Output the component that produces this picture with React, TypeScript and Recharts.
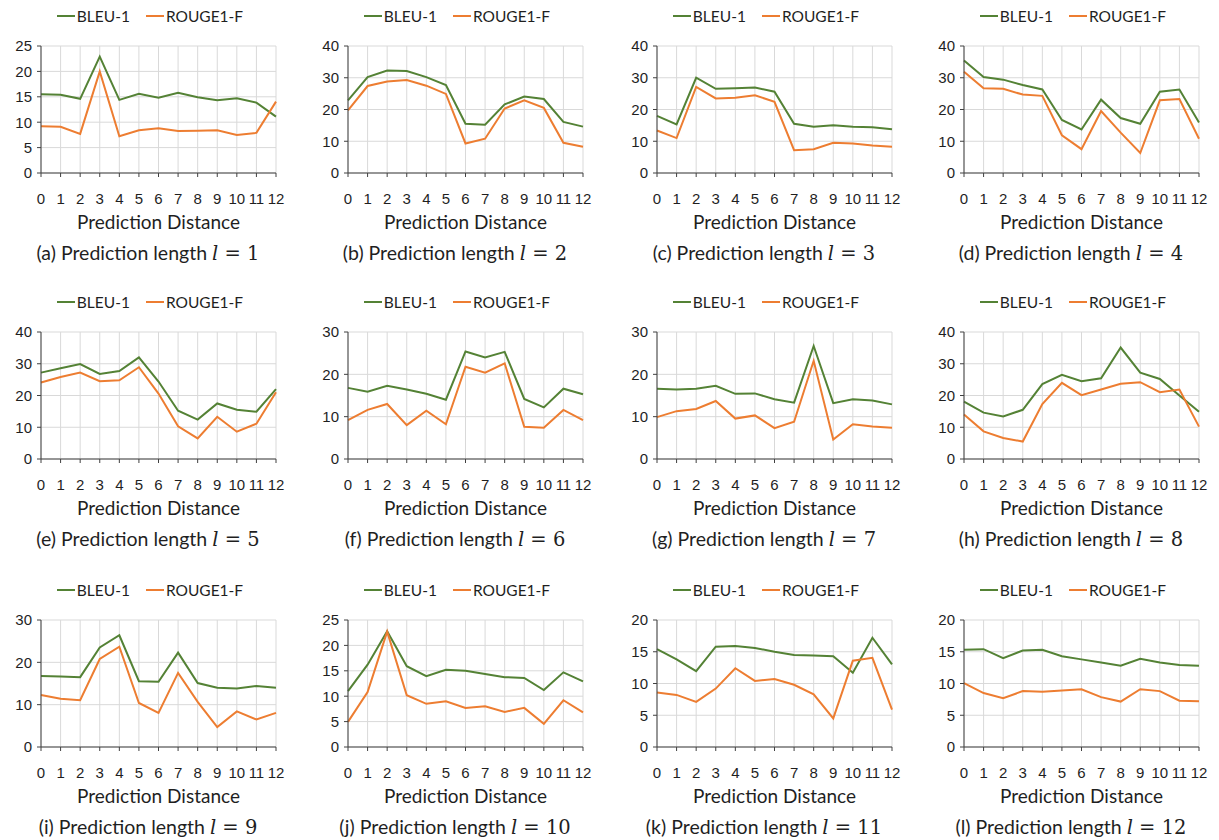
// grid of twelve small line charts: BLEU-1 / ROUGE1-F against prediction distance
import { CartesianGrid, Legend, Line, LineChart, XAxis, YAxis } from "recharts";

const distances = ["0", "1", "2", "3", "4", "5", "6", "7", "8", "9", "10", "11", "12"];

const bleuL1 = [15.5, 15.4, 14.6, 22.9, 14.4, 15.6, 14.8, 15.8, 14.9, 14.3, 14.7, 13.85, 11.1];
const rougeL1 = [9.2, 9.1, 7.7, 20.0, 7.25, 8.4, 8.8, 8.25, 8.3, 8.4, 7.5, 7.9, 14.05];
const bleuL2 = [22.9, 30.2, 32.3, 32.1, 30.2, 27.7, 15.5, 15.2, 21.6, 24.1, 23.3, 16.1, 14.6];
const rougeL2 = [19.7, 27.4, 28.8, 29.3, 27.5, 24.9, 9.3, 10.8, 20.3, 22.9, 20.5, 9.5, 8.3];
const bleuL3 = [18.0, 15.3, 30.0, 26.5, 26.7, 26.9, 25.6, 15.5, 14.6, 15.0, 14.6, 14.4, 13.8];
const rougeL3 = [13.4, 11.0, 27.1, 23.5, 23.7, 24.5, 22.4, 7.2, 7.5, 9.5, 9.3, 8.65, 8.3];
const bleuL4 = [35.4, 30.2, 29.4, 27.7, 26.3, 16.7, 13.7, 23.1, 17.3, 15.5, 25.6, 26.3, 15.9];
const rougeL4 = [31.9, 26.7, 26.5, 24.7, 24.3, 11.9, 7.5, 19.5, 12.7, 6.3, 22.9, 23.3, 10.8];
const bleuL5 = [27.2, 28.6, 29.9, 26.8, 27.7, 32.0, 24.4, 15.2, 12.4, 17.5, 15.5, 14.9, 22.0];
const rougeL5 = [24.1, 25.8, 27.2, 24.5, 24.8, 28.9, 20.6, 10.3, 6.5, 13.3, 8.6, 11.1, 21.0];
const bleuL6 = [16.8, 15.9, 17.3, 16.4, 15.4, 14.0, 25.4, 24.0, 25.3, 14.2, 12.2, 16.6, 15.3];
const rougeL6 = [9.2, 11.6, 13.0, 8.0, 11.4, 8.2, 21.8, 20.4, 22.6, 7.6, 7.4, 11.6, 9.2];
const bleuL7 = [16.6, 16.4, 16.6, 17.3, 15.4, 15.5, 14.1, 13.3, 26.7, 13.2, 14.1, 13.8, 12.9];
const rougeL7 = [9.9, 11.3, 11.8, 13.7, 9.55, 10.3, 7.3, 8.8, 23.2, 4.6, 8.2, 7.7, 7.4];
const bleuL8 = [18.1, 14.6, 13.4, 15.5, 23.6, 26.5, 24.5, 25.4, 35.1, 27.2, 25.2, 20.0, 14.9];
const rougeL8 = [14.0, 8.7, 6.6, 5.5, 17.3, 24.0, 20.1, 21.9, 23.7, 24.2, 21.05, 21.9, 10.2];
const bleuL9 = [16.8, 16.65, 16.5, 23.5, 26.4, 15.55, 15.4, 22.3, 15.1, 14.0, 13.8, 14.4, 14.0];
const rougeL9 = [12.3, 11.4, 11.05, 20.8, 23.7, 10.4, 8.05, 17.5, 10.65, 4.7, 8.4, 6.5, 8.05];
const bleuL10 = [11.0, 16.2, 22.8, 15.9, 13.95, 15.2, 15.0, 14.35, 13.75, 13.6, 11.2, 14.7, 12.9];
const rougeL10 = [4.95, 10.8, 22.7, 10.2, 8.5, 9.0, 7.7, 8.0, 6.9, 7.7, 4.55, 9.2, 6.8];
const bleuL11 = [15.4, 13.8, 11.95, 15.8, 15.9, 15.6, 15.0, 14.5, 14.4, 14.3, 11.7, 17.2, 13.0];
const rougeL11 = [8.6, 8.2, 7.1, 9.2, 12.4, 10.4, 10.7, 9.8, 8.3, 4.5, 13.6, 14.05, 5.9];
const bleuL12 = [15.3, 15.4, 14.0, 15.2, 15.3, 14.3, 13.8, 13.3, 12.8, 13.9, 13.3, 12.9, 12.8];
const rougeL12 = [10.05, 8.5, 7.7, 8.8, 8.7, 8.9, 9.1, 7.85, 7.15, 9.1, 8.8, 7.3, 7.2];

const ticks20 = [0, 5, 10, 15, 20];
const ticks25 = [0, 5, 10, 15, 20, 25];
const ticks30 = [0, 10, 20, 30];
const ticks40 = [0, 10, 20, 30, 40];

const panels = [
  { tag: "a", l: "1", bleu: bleuL1, rouge: rougeL1, ticks: ticks25 },
  { tag: "b", l: "2", bleu: bleuL2, rouge: rougeL2, ticks: ticks40 },
  { tag: "c", l: "3", bleu: bleuL3, rouge: rougeL3, ticks: ticks40 },
  { tag: "d", l: "4", bleu: bleuL4, rouge: rougeL4, ticks: ticks40 },
  { tag: "e", l: "5", bleu: bleuL5, rouge: rougeL5, ticks: ticks40 },
  { tag: "f", l: "6", bleu: bleuL6, rouge: rougeL6, ticks: ticks30 },
  { tag: "g", l: "7", bleu: bleuL7, rouge: rougeL7, ticks: ticks30 },
  { tag: "h", l: "8", bleu: bleuL8, rouge: rougeL8, ticks: ticks40 },
  { tag: "i", l: "9", bleu: bleuL9, rouge: rougeL9, ticks: ticks30 },
  { tag: "j", l: "10", bleu: bleuL10, rouge: rougeL10, ticks: ticks25 },
  { tag: "k", l: "11", bleu: bleuL11, rouge: rougeL11, ticks: ticks20 },
  { tag: "l", l: "12", bleu: bleuL12, rouge: rougeL12, ticks: ticks20 },
];

const GREEN = "#548235";
const ORANGE = "#ED7D31";
const AXIS = "#404040";
const TEXT = "#1f1f1f";
const SANS = "Lato, 'Open Sans', sans-serif";
const ARIAL = "'Liberation Sans', Arial, sans-serif";

// plot-area corners
const plotLefts = [41, 348, 657, 964];
const plotTops = [46, 332, 620];
const PW = 235;
const PH = 127;
const YW = 40;
const TOP = 46;
const XH = 60;
const RIGHT = 10;

function LegendRow({ payload }: any) {
  return (
    <div style={{ display: "flex", justifyContent: "center", alignItems: "center", fontFamily: SANS, fontSize: 15.5, color: TEXT }}>
      {(payload || []).map((e: any, i: number) => (
        <div key={e.value} style={{ display: "flex", alignItems: "center", marginLeft: i ? 16 : 0 }}>
          <div style={{ width: 18, height: 2, background: e.color, marginRight: 2 }} />
          <span>{e.value}</span>
        </div>
      ))}
    </div>
  );
}

function Panel({ p, idx }: { p: (typeof panels)[number]; idx: number }) {
  const col = idx % 4;
  const row = Math.floor(idx / 4);
  const plotLeft = plotLefts[col];
  const plotTop = plotTops[row];
  const data = distances.map((d, i) => ({ d, bleu: p.bleu[i], rouge: p.rouge[i] }));
  const yMax = p.ticks[p.ticks.length - 1];
  const chartW = YW + PW + RIGHT;

  return (
    <>
      <div style={{ position: "absolute", left: plotLeft - YW, top: plotTop - TOP }}>
        <LineChart width={chartW} height={TOP + PH + XH} data={data} margin={{ top: TOP, right: RIGHT, left: 0, bottom: 0 }}>
          <CartesianGrid stroke="#d9d9d9" />
          <XAxis
            dataKey="d"
            interval={0}
            height={XH}
            tickSize={4}
            tickMargin={16}
            axisLine={{ stroke: AXIS }}
            tickLine={{ stroke: AXIS }}
            tick={{ fill: TEXT, fontSize: 15, fontFamily: ARIAL }}
            label={{ value: "Prediction Distance", position: "insideBottom", offset: 4, fill: TEXT, fontSize: 19, fontFamily: SANS }}
          />
          <YAxis
            width={YW}
            domain={[0, yMax]}
            ticks={p.ticks}
            interval={0}
            tickSize={4}
            tickMargin={5}
            axisLine={{ stroke: AXIS }}
            tickLine={{ stroke: AXIS }}
            tick={{ fill: TEXT, fontSize: 15, fontFamily: ARIAL }}
          />
          <Legend
            layout="horizontal"
            verticalAlign="middle"
            align="center"
            wrapperStyle={{ top: 7, left: 0, width: 298, height: 20 }}
            content={(props: any) => <LegendRow payload={props.payload} />}
          />
          <Line dataKey="bleu" name="BLEU-1" stroke={GREEN} strokeWidth={2} dot={false} activeDot={false} isAnimationActive={false} />
          <Line dataKey="rouge" name="ROUGE1-F" stroke={ORANGE} strokeWidth={2} dot={false} activeDot={false} isAnimationActive={false} />
        </LineChart>
      </div>
      <div
        style={{
          position: "absolute",
          left: plotLeft + 107 - 150,
          top: plotTop + PH + 80 - 13,
          width: 300,
          textAlign: "center",
          fontFamily: SANS,
          fontSize: 19.5,
          lineHeight: "26px",
          color: TEXT,
          whiteSpace: "nowrap",
        }}
      >
        ({p.tag}) Prediction length{" "}
        <span style={{ fontFamily: "'DejaVu Serif', serif", fontStyle: "italic" }}>l</span>
        <span style={{ fontFamily: "'DejaVu Serif', serif" }}> = {p.l}</span>
      </div>
    </>
  );
}

export default function App() {
  return (
    <div style={{ position: "absolute", left: 0, top: 0, width: 1219, height: 840, background: "#fff", overflow: "hidden" }}>
      {panels.map((p, i) => (
        <Panel key={p.tag} p={p} idx={i} />
      ))}
    </div>
  );
}
